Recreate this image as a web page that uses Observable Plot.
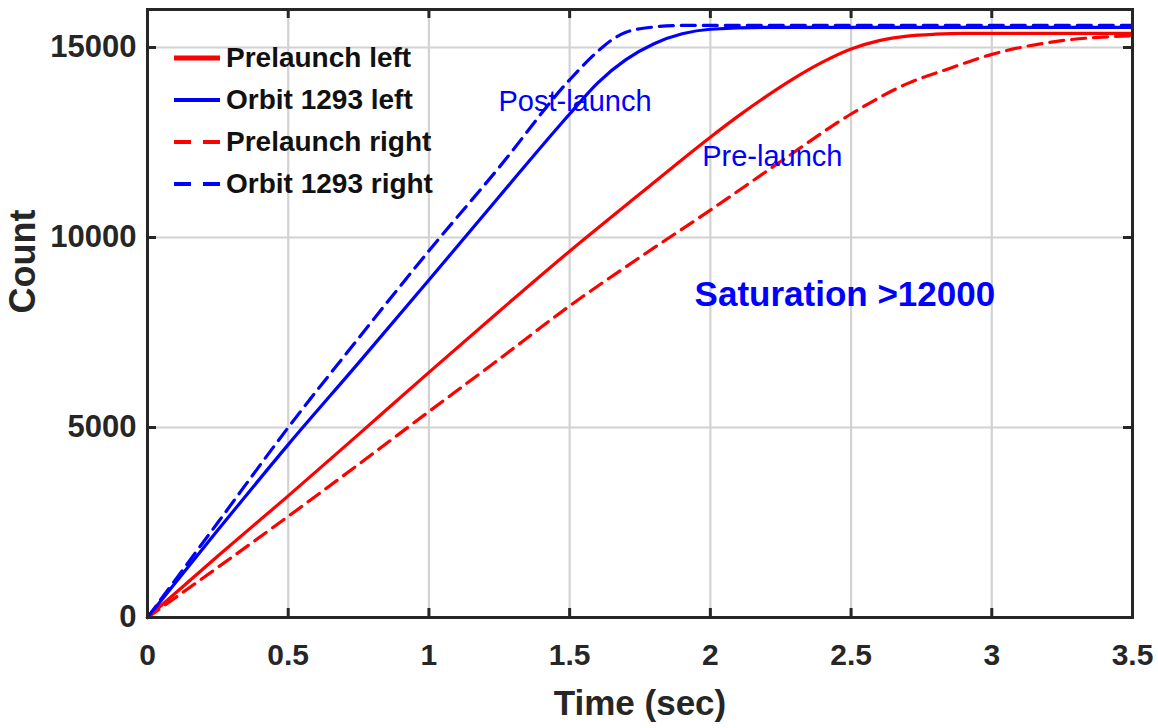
<!DOCTYPE html>
<html><head><meta charset="utf-8">
<script src="https://cdn.jsdelivr.net/npm/d3@7"></script>
<script src="https://cdn.jsdelivr.net/npm/@observablehq/plot@0.6"></script>
<style>
html,body{margin:0;padding:0;background:#fff;}
#wrap{position:relative;width:1158px;height:728px;overflow:hidden;background:#fff;}
#legend{position:absolute;left:174px;top:37px;font-family:"Liberation Sans",Arial,sans-serif;font-weight:bold;font-size:28px;color:#111;}
.row{display:flex;align-items:center;height:42px;white-space:nowrap;}
.row svg{margin-right:6px;flex:none;}
</style></head><body><div id="wrap"><div id="legend"></div></div>
<script>
// ---- data ----
const seriesNames = ["Prelaunch left", "Orbit 1293 left", "Prelaunch right", "Orbit 1293 right"];
const seriesColors = ["#ff0000", "#0000ff", "#ff0000", "#0000ff"];
const seriesDashed = [false, false, true, true];

const tPrelaunchLeft = [0, 0.25, 0.5, 0.75, 1.0, 1.25, 1.5, 1.75, 2.0, 2.1, 2.2, 2.3, 2.4, 2.5, 2.6, 2.7, 2.8, 2.9, 3.5];
const cPrelaunchLeft = [0, 1620, 3200, 4820, 6450, 8060, 9640, 11150, 12640, 13200, 13720, 14200, 14620, 14960, 15180, 15300, 15350, 15370, 15370];

const tOrbitLeft = [0, 0.25, 0.5, 0.75, 1.0, 1.25, 1.5, 1.6, 1.7, 1.8, 1.9, 2.0, 2.2, 2.5, 3.0, 3.5];
const cOrbitLeft = [0, 2300, 4550, 6700, 8880, 11080, 13250, 14070, 14680, 15100, 15360, 15480, 15530, 15530, 15530, 15530];

const tPrelaunchRight = [0, 0.25, 0.5, 0.75, 1.0, 1.25, 1.5, 1.75, 2.0, 2.25, 2.5, 2.7, 2.85, 3.0, 3.2, 3.5];
const cPrelaunchRight = [0, 1320, 2660, 4030, 5420, 6800, 8200, 9480, 10720, 12000, 13250, 14050, 14450, 14820, 15130, 15310];

const tOrbitRight = [0, 0.25, 0.5, 0.75, 1.0, 1.25, 1.5, 1.6, 1.65, 1.7, 1.8, 1.9, 2.0, 2.5, 3.0, 3.5];
const cOrbitRight = [0, 2500, 5000, 7350, 9650, 11850, 14150, 14900, 15200, 15400, 15540, 15580, 15580, 15580, 15580, 15580];

const xTicks = [0, 0.5, 1, 1.5, 2, 2.5, 3, 3.5];
const xTickLabels = ["0", "0.5", "1", "1.5", "2", "2.5", "3", "3.5"];
const yTicks = [0, 5000, 10000, 15000];
const yTickLabels = ["0", "5000", "10000", "15000"];

const annLabels = ["Post-launch", "Pre-launch", "Saturation >12000"];
const annX = [1.247, 1.971, 1.944];
const annY = [13566, 12132, 8500];

// ---- build ----
const seriesT = [tPrelaunchLeft, tOrbitLeft, tPrelaunchRight, tOrbitRight];
const seriesC = [cPrelaunchLeft, cOrbitLeft, cPrelaunchRight, cOrbitRight];
const rows = seriesNames.flatMap((name, i) => seriesT[i].map((t, j) => ({series: name, t, count: seriesC[i][j]})));
const anns = annLabels.map((text, i) => ({text, x: annX[i], y: annY[i]}));

const W = 1158, H = 728, mL = 147, mR = 26, mT = 9, mB = 111;
const plotH = H - mT - mB, plotW = W - mL - mR;
const dark = "#262626";
const FONT = "'Liberation Sans', Arial, Helvetica, sans-serif";

const lineMarks = seriesNames.map((name, i) => Plot.line(rows.filter(d => d.series === name), {
  x: "t", y: "count", stroke: seriesColors[i], strokeWidth: 3.2,
  strokeDasharray: seriesDashed[i] ? "14,8" : null, curve: "monotone-x"
}));

const chart = Plot.plot({
  width: W, height: H,
  marginLeft: mL, marginRight: mR, marginTop: mT, marginBottom: mB,
  style: {fontFamily: FONT, color: dark, background: "white", overflow: "visible"},
  x: {domain: [0, 3.5]},
  y: {domain: [0, 16000]},
  marks: [
    Plot.gridX(xTicks, {stroke: "#d2d2d2", strokeWidth: 2.2, strokeOpacity: 1}),
    Plot.gridY(yTicks, {stroke: "#d2d2d2", strokeWidth: 2.2, strokeOpacity: 1}),
    ...lineMarks,
    Plot.frame({stroke: dark, strokeWidth: 3}),
    Plot.ruleX(xTicks, {stroke: dark, strokeWidth: 3, insetTop: plotH - 9}),
    Plot.ruleX(xTicks, {stroke: dark, strokeWidth: 3, insetBottom: plotH - 9}),
    Plot.ruleY(yTicks, {stroke: dark, strokeWidth: 3, insetRight: plotW - 9}),
    Plot.ruleY(yTicks, {stroke: dark, strokeWidth: 3, insetLeft: plotW - 9}),
    Plot.axisX(xTicks, {tickSize: 0, tickPadding: 26, label: null, fontSize: 30, fontWeight: "bold", fill: dark,
      tickFormat: (d) => xTickLabels[xTicks.indexOf(d)]}),
    Plot.axisY(yTicks, {tickSize: 0, tickPadding: 11, label: null, fontSize: 31, fontWeight: "bold", fill: dark,
      tickFormat: (d) => yTickLabels[yTicks.indexOf(d)]}),
    Plot.text(["Time (sec)"], {text: d => d, frameAnchor: "bottom", lineAnchor: "middle", dy: 86, fontSize: 35, fontWeight: "bold", fill: dark}),
    Plot.text(["Count"], {text: d => d, frameAnchor: "left", lineAnchor: "middle", dx: -124, rotate: -90, fontSize: 36, fontWeight: "bold", fill: dark}),
    Plot.text(anns.slice(0, 2), {x: "x", y: "y", text: "text", textAnchor: "start", lineAnchor: "middle", fontSize: 29, fill: "#0000ff"}),
    Plot.text(anns.slice(2), {x: "x", y: "y", text: "text", textAnchor: "start", lineAnchor: "middle", fontSize: 35, fontWeight: "bold", fill: "#0000ff"})
  ]
});
const wrap = document.getElementById("wrap");
wrap.insertBefore(chart, wrap.firstChild);

// legend
const legend = document.getElementById("legend");
seriesNames.forEach((name, i) => {
  const row = document.createElement("div");
  row.className = "row";
  const dash = seriesDashed[i] ? ' stroke-dasharray="17,12"' : '';
  row.innerHTML = `<svg width="46" height="10"><line x1="0" x2="46" y1="5" y2="5" stroke="${seriesColors[i]}" stroke-width="${i === 0 ? 5 : 4}"${dash}/></svg><span>${name}</span>`;
  legend.appendChild(row);
});
</script>
</body></html>
